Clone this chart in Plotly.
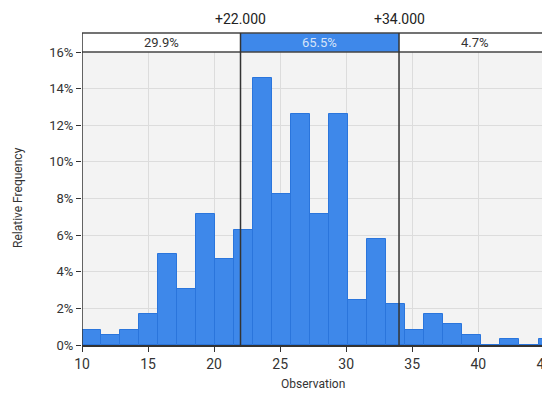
import plotly.graph_objects as go

# ---- data ----
bin_start = 10.0
bin_width = 1.44
rel_freq = [0.84, 0.56, 0.84, 1.68, 4.97, 3.08, 7.14, 4.72, 6.30, 14.57, 8.27, 12.60,
            7.14, 12.60, 2.48, 5.79, 2.24, 0.84, 1.68, 1.16, 0.56, 0.0, 0.33, 0.0, 0.33]
lower_limit = 22.0
upper_limit = 34.0
region_pcts = ["29.9%", "65.5%", "4.7%"]
x_ticks = [10, 15, 20, 25, 30, 35, 40, 45]
y_ticks = [0, 2, 4, 6, 8, 10, 12, 14, 16]
y_tick_labels = [f"{v}%" for v in y_ticks]
x_min, x_max = 10.0, 45.43
y_max = 16.0

centers = [bin_start + bin_width * (i + 0.5) for i in range(len(rel_freq))]

# page has an 8px body margin; work in page pixels and offset
OFF = 8
PAGE_W, PAGE_H = 550, 396
W, H = PAGE_W - OFF, PAGE_H - OFF
plot_left, plot_right, plot_top, plot_bottom = 82, 550, 52, 345
ml = plot_left - OFF
mr = PAGE_W - plot_right
mt = plot_top - OFF
mb = PAGE_H - plot_bottom
plot_w = plot_right - plot_left
plot_h = plot_bottom - plot_top
band_h = 19
band_top = 1 + band_h / plot_h  # paper coords
band_top_data = y_max * band_top


def px_to_paper_x(px):
    return (px - plot_left) / plot_w


def px_to_paper_y(py):
    return (plot_bottom - py) / plot_h


FONT = "Roboto, Arial, sans-serif"
BLUE = "#3e88ea"
BLUE_LINE = "#2a75dc"
DARK = "#444444"

fig = go.Figure()
fig.add_trace(go.Bar(
    x=centers, y=rel_freq, width=bin_width,
    marker=dict(color=BLUE, line=dict(color=BLUE_LINE, width=1)),
    hoverinfo="skip", showlegend=False,
))

shapes = []
regions = [(x_min, lower_limit, "white"), (lower_limit, upper_limit, BLUE), (upper_limit, x_max, "white")]
for (a, b, fill) in regions:
    shapes.append(dict(type="rect", xref="x", yref="paper", x0=a, x1=b, y0=1, y1=band_top,
                       fillcolor=fill, line=dict(width=0), layer="above"))
shapes.append(dict(type="line", xref="x", yref="paper", x0=x_min, x1=x_max, y0=band_top, y1=band_top,
                   line=dict(color=DARK, width=1.5)))
shapes.append(dict(type="line", xref="x", yref="paper", x0=x_min, x1=x_max, y0=1, y1=1,
                   line=dict(color=DARK, width=1.5)))
shapes.append(dict(type="line", xref="x", yref="paper", x0=x_min, x1=x_min, y0=0, y1=band_top,
                   line=dict(color="#333333", width=1.5)))
for v in (lower_limit, upper_limit):
    shapes.append(dict(type="line", xref="x", yref="paper", x0=v, x1=v, y0=0, y1=band_top,
                       line=dict(color="#333333", width=1.5), layer="above"))

fig.add_trace(go.Scatter(
    x=[lower_limit, upper_limit], y=[band_top_data, band_top_data], mode="markers",
    marker=dict(symbol="diamond", size=10, color="#555555"),
    cliponaxis=False, hoverinfo="skip", showlegend=False,
))

annotations = []
text_colors = ["#333333", "#d6e4f9", "#333333"]
for (a, b, _), t, c in zip(regions, region_pcts, text_colors):
    annotations.append(dict(x=(a + b) / 2, y=(1 + band_top) / 2, xref="x", yref="paper",
                            xanchor="center", yanchor="middle",
                            text=t, showarrow=False, font=dict(family=FONT, size=13, color=c)))
for v in (lower_limit, upper_limit):
    annotations.append(dict(x=v, y=band_top, xref="x", yref="paper", text=f"+{v:.3f}",
                            showarrow=False, xanchor="center", yanchor="bottom", yshift=4,
                            font=dict(family=FONT, size=14, color="#222222")))
annotations.append(dict(x=px_to_paper_x(18), y=px_to_paper_y(198), xref="paper", yref="paper",
                        xanchor="center", yanchor="middle",
                        text="Relative Frequency", textangle=-90, showarrow=False,
                        font=dict(family=FONT, size=12, color="#333333")))
annotations.append(dict(x=px_to_paper_x(313), y=px_to_paper_y(384), xref="paper", yref="paper",
                        xanchor="center", yanchor="middle",
                        text="Observation", showarrow=False,
                        font=dict(family=FONT, size=12, color="#333333")))

fig.update_layout(
    width=W, height=H,
    margin=dict(l=ml, r=mr, t=mt, b=mb, pad=0, autoexpand=False),
    paper_bgcolor="white", plot_bgcolor="#f3f3f3",
    bargap=0, shapes=shapes, annotations=annotations,
    font=dict(family=FONT, size=13, color="#333333"),
    xaxis=dict(range=[x_min, x_max], tickvals=x_ticks, showgrid=True, gridcolor="#dcdcdc",
               gridwidth=1, zeroline=False, showline=True, linecolor="#333333", linewidth=1.5,
               ticks="outside", ticklen=5, tickcolor="#333333", automargin=False,
               ticklabeloverflow="allow",
               tickfont=dict(family=FONT, size=14, color="#333333")),
    yaxis=dict(range=[0, y_max], tickvals=y_ticks, ticktext=y_tick_labels, showgrid=True,
               gridcolor="#dcdcdc", gridwidth=1, zeroline=False, showline=False,
               ticks="outside", ticklen=5, tickcolor="#333333", automargin=False,
               tickfont=dict(family=FONT, size=13, color="#333333")),
)

fig.write_html("out.html")
